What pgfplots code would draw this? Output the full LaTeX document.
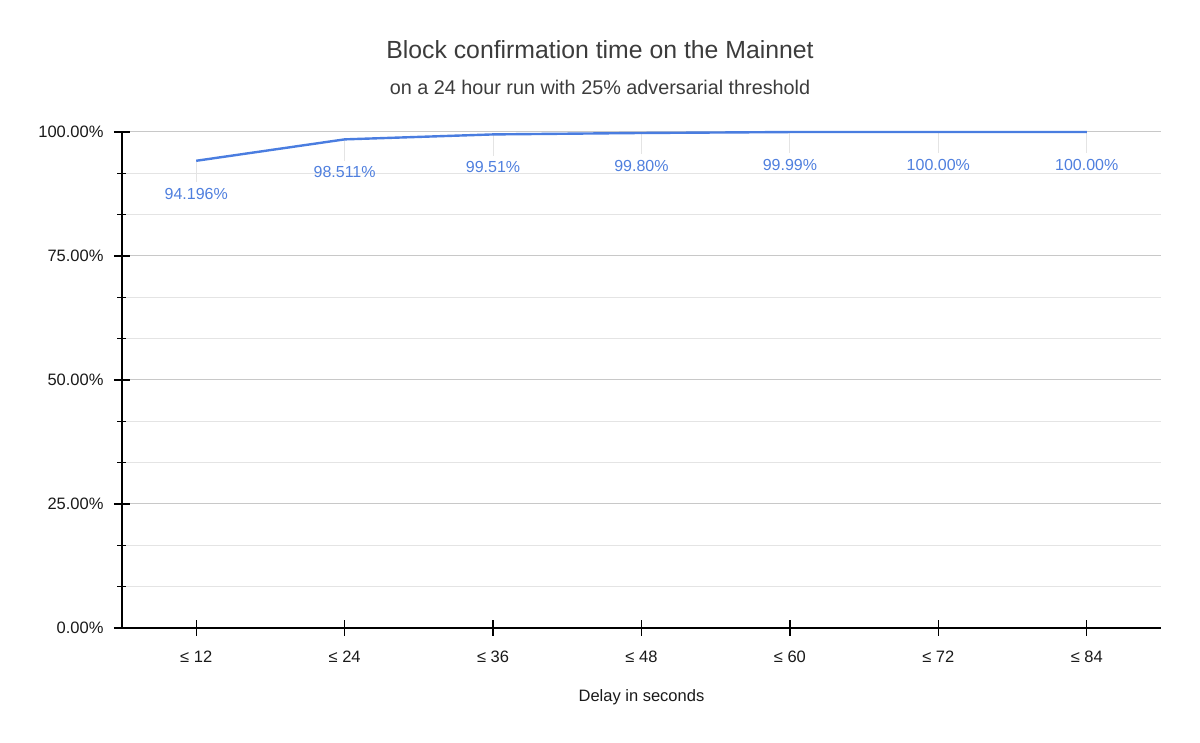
\documentclass[border=0pt]{standalone}
\usepackage{fontspec}
\setmainfont{Liberation Sans}
\usepackage{pgfplots}
\pgfplotsset{compat=1.18}
\usepackage{pgfplotstable}

\definecolor{lineblue}{HTML}{4A7DE0}
\definecolor{labelblue}{HTML}{4F7FDE}
\definecolor{majgrid}{HTML}{C8C8C8}
\definecolor{mingrid}{HTML}{E4E4E4}
\definecolor{titlegray}{HTML}{3C3C3C}

% share of blocks confirmed within the delay
\pgfplotstableread{
x y lab
0 94.196 94.196
1 98.511 98.511
2 99.51 99.51
3 99.80 99.80
4 99.99 99.99
5 100.00 100.00
6 100.00 100.00
}\delaydata

\begin{document}
\begin{tikzpicture}
\path[use as bounding box] (-122pt,-115pt) rectangle (1078pt,628pt);
\begin{axis}[
    scale only axis,
    width=1039pt, height=496pt,
    xmin=-0.5, xmax=6.5, ymin=0, ymax=100,
    clip=false,
    axis lines=left,
    axis line style={-, black, line width=1.4pt},
    xtick={0,...,6},
    xticklabels={≤ 12,≤ 24,≤ 36,≤ 48,≤ 60,≤ 72,≤ 84},
    ytick={0,25,50,75,100},
    yticklabels={0.00\%,25.00\%,50.00\%,75.00\%,100.00\%},
    minor y tick num=2,
    ymajorgrids, yminorgrids,
    major grid style={majgrid, line width=1pt},
    minor grid style={mingrid, line width=1pt},
    tick align=center,
    major tick length=16pt, minor tick length=9pt,
    tick style={black, line width=1.3pt},
    tick label style={font=\fontsize{16.5}{19}\selectfont, text=black!90},
    yticklabel style={xshift=-7pt},
    xticklabel style={yshift=-11pt},
    xlabel={Delay in seconds},
    xlabel style={font=\fontsize{16.5}{19}\selectfont, text=black!90,
        at={(axis description cs:0.5,0)}, anchor=center, yshift=-69pt},
]
% faint leader lines from each point to its label
\addplot[draw=none, forget plot,
    error bars/.cd, y dir=minus, y fixed=4.3, error mark=none,
    error bar style={mingrid, line width=1pt}]
    table[x=x, y=y] {\delaydata};
\addplot[lineblue, line width=2.4pt, mark=none,
    point meta=explicit symbolic,
    nodes near coords={\pgfplotspointmeta\%},
    every node near coord/.style={anchor=north, inner sep=0pt, yshift=-26pt,
        font=\fontsize{16}{19}\selectfont, text=labelblue}]
    table[x=x, y=y, meta=lab] {\delaydata};
\end{axis}
\node[font=\fontsize{24.8}{28}\selectfont, text=titlegray] at (478pt,578pt)
    {Block confirmation time on the Mainnet};
\node[font=\fontsize{19.8}{22}\selectfont, text=titlegray] at (478pt,541pt)
    {on a 24 hour run with 25\% adversarial threshold};
\end{tikzpicture}
\end{document}
